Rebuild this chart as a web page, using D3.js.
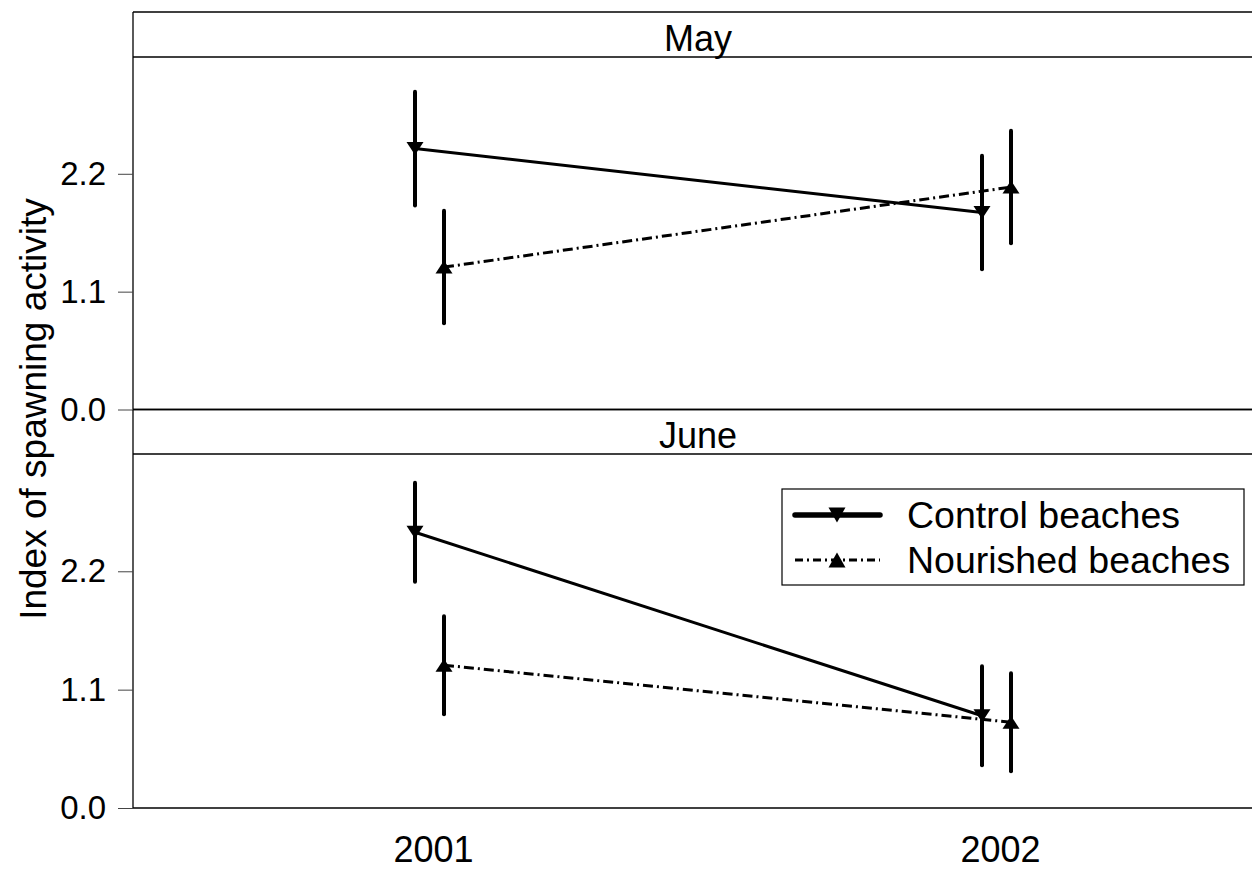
<!DOCTYPE html>
<html>
<head>
<meta charset="utf-8">
<script src="https://cdn.jsdelivr.net/npm/d3@7"></script>
<style>
  html, body { margin: 0; padding: 0; background: #fff; }
  svg { display: block; font-family: "Liberation Sans", Arial, Helvetica, sans-serif; }
</style>
</head>
<body>
<svg id="chart" width="1252" height="870"></svg>
<script>
// Panels (months), x categories (years) and the two beach series
const months = ["May", "June"];
const years = ["2001", "2002"];
const seriesNames = ["Control beaches", "Nourished beaches"];
const yTicks = [0.0, 1.1, 2.2];

// Mean index of spawning activity, one value per year
const controlMay = [2.435, 1.838];
const nourishedMay = [1.329, 2.076];
const controlJune = [2.563, 0.857];
const nourishedJune = [1.327, 0.797];

// Half-length of the error bars, one value per year
const controlMayErr = [0.53, 0.53];
const nourishedMayErr = [0.525, 0.525];
const controlJuneErr = [0.46, 0.46];
const nourishedJuneErr = [0.455, 0.455];

const svg = d3.select("#chart");

const left = 133, right = 1262;
const panels = [
  { name: months[0], stripTop: 12, top: 57, bottom: 409.5,
    control: controlMay, nourished: nourishedMay, cErr: controlMayErr, nErr: nourishedMayErr },
  { name: months[1], stripTop: 409.5, top: 454, bottom: 808,
    control: controlJune, nourished: nourishedJune, cErr: controlJuneErr, nErr: nourishedJuneErr }
];

const x = d3.scalePoint().domain(years).range([429.5, 996.5]);
const dodge = 14.5;
const yMax = 3.29;

const styles = [
  { key: "control", err: "cErr", dx: -dodge, dash: null, down: true },
  { key: "nourished", err: "nErr", dx: dodge, dash: "10,4,2,4", down: false }
];

function triangle(cx, cy, down, w = 17, h = 13) {
  const t = down ? -1 : 1;
  return `M${cx - w / 2},${cy + t * h / 2}L${cx + w / 2},${cy + t * h / 2}L${cx},${cy - t * h / 2}Z`;
}

panels.forEach(p => {
  const y = d3.scaleLinear().domain([0, yMax]).range([p.bottom, p.top]);
  const g = svg.append("g");

  // strip with month name
  g.append("line").attr("x1", left).attr("x2", right)
    .attr("y1", p.stripTop).attr("y2", p.stripTop)
    .attr("stroke", "#000").attr("stroke-width", 1.5);
  g.append("line").attr("x1", left).attr("x2", right)
    .attr("y1", p.top).attr("y2", p.top)
    .attr("stroke", "#000").attr("stroke-width", 1.5);
  g.append("text").attr("x", 698).attr("y", p.top - 6.5)
    .attr("text-anchor", "middle").attr("font-size", 36).text(p.name);

  // left frame and bottom line
  g.append("line").attr("x1", left).attr("x2", left)
    .attr("y1", p.stripTop).attr("y2", p.bottom)
    .attr("stroke", "#000").attr("stroke-width", 1.3);
  g.append("line").attr("x1", left).attr("x2", right)
    .attr("y1", p.bottom).attr("y2", p.bottom)
    .attr("stroke", "#000").attr("stroke-width", 1.6);

  // y axis
  const axis = d3.axisLeft(y).tickValues(yTicks).tickFormat(d3.format(".1f"))
    .tickSize(15).tickPadding(12);
  const ax = g.append("g").attr("transform", `translate(${left},0)`).call(axis);
  ax.select(".domain").remove();
  ax.selectAll(".tick line").attr("stroke", "#444").attr("stroke-width", 1);
  ax.selectAll(".tick text").attr("font-size", 33).attr("fill", "#000")
    .attr("font-family", "'Liberation Sans', Arial, sans-serif");

  styles.forEach(s => {
    const vals = p[s.key], errs = p[s.err];
    const pts = years.map((yr, i) => ({ x: x(yr) + s.dx, v: vals[i], e: errs[i] }));

    const line = d3.line().x(d => d.x).y(d => y(d.v));
    g.append("path").attr("d", line(pts)).attr("fill", "none")
      .attr("stroke", "#000").attr("stroke-width", 3)
      .attr("stroke-dasharray", s.dash);

    g.selectAll(null).data(pts).enter().append("line")
      .attr("x1", d => d.x).attr("x2", d => d.x)
      .attr("y1", d => y(d.v - d.e)).attr("y2", d => y(d.v + d.e))
      .attr("stroke", "#000").attr("stroke-width", 4).attr("stroke-linecap", "round");

    g.selectAll(null).data(pts).enter().append("path")
      .attr("d", d => triangle(d.x, y(d.v), s.down)).attr("fill", "#000");
  });
});

// year labels
svg.selectAll(null).data(years).enter().append("text")
  .attr("x", d => x(d) + 4).attr("y", 862)
  .attr("text-anchor", "middle").attr("font-size", 36).text(d => d);

// y axis title
svg.append("text")
  .attr("transform", "translate(46,409) rotate(-90)")
  .attr("text-anchor", "middle").attr("font-size", 37)
  .text("Index of spawning activity");

// legend
const lg = svg.append("g");
lg.append("rect").attr("x", 782).attr("y", 489).attr("width", 462).attr("height", 96)
  .attr("fill", "#fff").attr("stroke", "#000").attr("stroke-width", 1.2);
const legendRows = [
  { name: seriesNames[0], y: 515, width: 5.5, dash: null, down: true },
  { name: seriesNames[1], y: 560, width: 3, dash: "8,4,2,4", down: false }
];
legendRows.forEach(r => {
  lg.append("line").attr("x1", 795).attr("x2", 880).attr("y1", r.y).attr("y2", r.y)
    .attr("stroke", "#000").attr("stroke-width", r.width)
    .attr("stroke-linecap", r.dash ? "butt" : "round")
    .attr("stroke-dasharray", r.dash);
  lg.append("path").attr("d", triangle(837, r.y, r.down, 17, 15)).attr("fill", "#000");
  lg.append("text").attr("x", 907).attr("y", r.y + 12.5)
    .attr("font-size", 37.5).text(r.name);
});
</script>
</body>
</html>
